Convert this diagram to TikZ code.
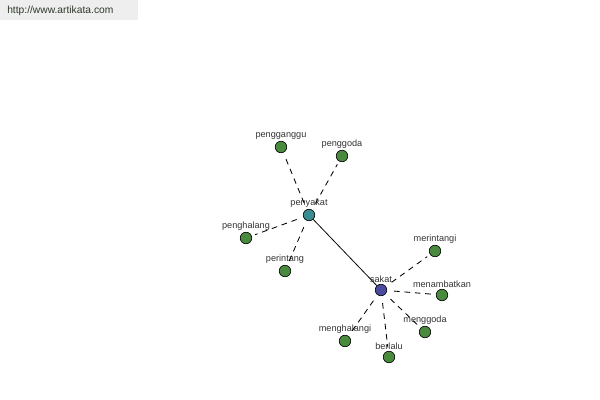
\documentclass[tikz,border=0pt]{standalone}
\usepackage{fontspec}
\setmainfont{Liberation Sans}
\definecolor{wordgreen}{HTML}{4A8A3E}
\definecolor{wordteal}{HTML}{3B8C90}
\definecolor{wordblue}{HTML}{4B4B9E}
\definecolor{inkgray}{HTML}{333333}
\definecolor{urlgray}{HTML}{2E3A2A}
\definecolor{markbg}{HTML}{EEEEEE}
\tikzset{
	wnode/.style={circle, draw=black, line width=0.45pt, inner sep=0pt, minimum size=8.2pt,
		fill=wordgreen, label distance=-2.2pt},
	wlabel/.style={font=\fontsize{6.5}{7}\selectfont, text=inkgray, inner sep=1pt},
	syn/.style={dashed, dash pattern=on 4pt off 3.4pt, line width=0.6pt, shorten <=5pt, shorten >=2.5pt},
	link/.style={line width=0.55pt}
}

\begin{document}
\begin{tikzpicture}[x=0.025cm, y=-0.025cm, every label/.style={wlabel}]
	\useasboundingbox (0,0) rectangle (600,400);
	\fill[markbg] (0,0) rectangle (138,20);
	\node[anchor=west, font=\fontsize{7.3}{8}\selectfont, text=urlgray, inner sep=0pt] (url) at (7,10.5) {http://www.artikata.com};
	% hubs
	\node[wnode, fill=wordteal, label={above:penyakat}] (penyakat) at (309,215) {};
	\node[wnode, fill=wordblue, label={above:sakat}] (sakat) at (381,290) {};
	% words around penyakat
	\node[wnode, label={above:pengganggu}] (pengganggu) at (281,147) {};
	\node[wnode, label={above:penggoda}] (penggoda) at (342,156) {};
	\node[wnode, label={above:penghalang}] (penghalang) at (246,238) {};
	\node[wnode, label={above:perintang}] (perintang) at (285,271) {};
	% words around sakat
	\node[wnode, label={above:merintangi}] (merintangi) at (435,251) {};
	\node[wnode, label={above:menambatkan}] (menambatkan) at (442,295) {};
	\node[wnode, label={above:menggoda}] (menggoda) at (425,332) {};
	\node[wnode, label={above:menghalangi}] (menghalangi) at (345,341) {};
	\node[wnode, label={above:berlalu}] (berlalu) at (389,357) {};
	\draw[link] (penyakat) -- (sakat);
	\foreach \w in {pengganggu, penggoda, penghalang, perintang}
		\draw[syn] (penyakat) -- (\w);
	\foreach \w in {merintangi, menambatkan, menggoda, menghalangi, berlalu}
		\draw[syn] (sakat) -- (\w);
\end{tikzpicture}
\end{document}
